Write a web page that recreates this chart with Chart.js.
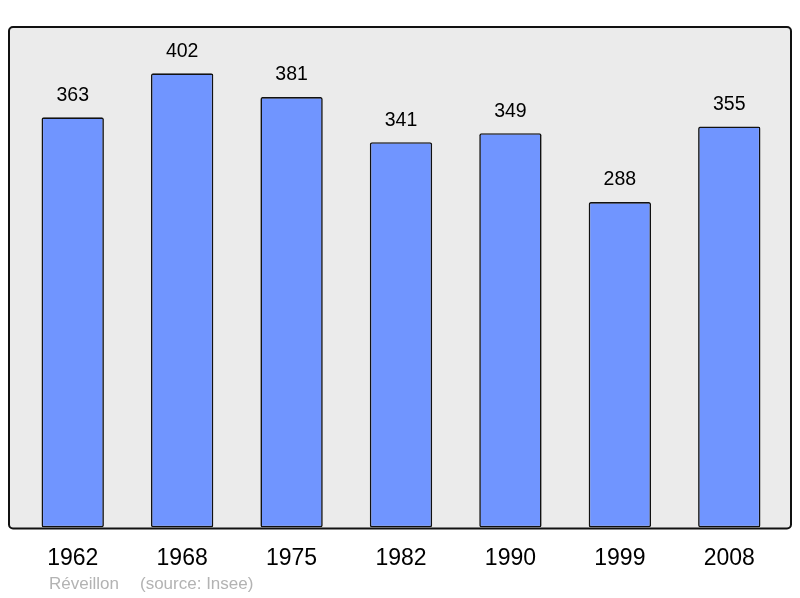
<!DOCTYPE html>
<html>
<head>
<meta charset="utf-8">
<script src="https://cdn.jsdelivr.net/npm/chart.js@4"></script>
<style>
  body { margin: 0; background: #ffffff; }
  canvas { display: block; }
</style>
</head>
<body>
<canvas id="myChart" width="800" height="598"></canvas>
<script>
const years = ['1962', '1968', '1975', '1982', '1990', '1999', '2008'];
const population = [363, 402, 381, 341, 349, 288, 355];
const footerName = 'Réveillon';
const footerSource = '(source: Insee)';

// grey box behind the bars, a bit wider than the chart area
const frame = {
  id: 'frame',
  beforeDatasetsDraw(chart) {
    const a = chart.chartArea;
    const c = chart.ctx;
    const x0 = a.left - 9, x1 = a.right + 7, y0 = a.top, y1 = a.bottom + 1;
    c.save();
    c.beginPath();
    c.roundRect(x0, y0, x1 - x0, y1 - y0, 4);
    c.fillStyle = '#ebebeb';
    c.fill();
    c.restore();
  },
  afterDatasetsDraw(chart) {
    const a = chart.chartArea;
    const c = chart.ctx;
    const x0 = a.left - 9, x1 = a.right + 7, y0 = a.top, y1 = a.bottom + 1;
    c.save();
    c.beginPath();
    c.roundRect(x0, y0, x1 - x0, y1 - y0, 4);
    c.lineWidth = 2;
    c.strokeStyle = '#111111';
    c.stroke();

    // values above the bars
    const meta = chart.getDatasetMeta(0);
    c.font = '19.5px "Liberation Sans", Arial, sans-serif';
    c.fillStyle = '#000000';
    c.textAlign = 'center';
    c.textBaseline = 'middle';
    meta.data.forEach((bar, i) => {
      c.fillText(population[i], bar.x, bar.y - 22);
    });

    // footer
    c.font = '17px "Liberation Sans", Arial, sans-serif';
    c.fillStyle = '#b3b3b3';
    c.textAlign = 'left';
    c.fillText(footerName, 49, 584);
    c.fillText(footerSource, 140, 584);
    c.restore();
  }
};

const ctx = document.getElementById('myChart');
const chart = new Chart(ctx, {
  type: 'bar',
  data: {
    labels: years,
    datasets: [{
      data: population,
      backgroundColor: '#7095ff',
      borderColor: '#111111',
      borderWidth: 1.6,
      borderRadius: 2,
      borderSkipped: false,
      barPercentage: 0.57,
      categoryPercentage: 1
    }]
  },
  options: {
    responsive: false,
    animation: false,
    layout: { padding: { left: 18, right: 16, top: 27, bottom: 17 } },
    plugins: { legend: { display: false }, tooltip: { enabled: false } },
    scales: {
      x: {
        grid: { display: false },
        border: { display: false },
        ticks: {
          color: '#000000',
          padding: 9,
          font: { size: 23, family: '"Liberation Sans", Arial, sans-serif' }
        }
      },
      y: {
        display: false,
        min: 0,
        max: 443
      }
    }
  },
  plugins: [frame]
});
</script>
</body>
</html>
